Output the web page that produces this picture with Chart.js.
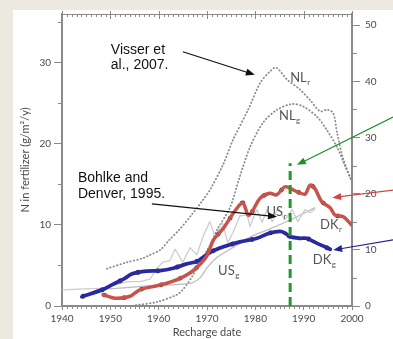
<!DOCTYPE html>
<html>
<head>
<meta charset="utf-8">
<script src="https://cdn.jsdelivr.net/npm/chart.js@4.4.1/dist/chart.umd.min.js"></script>
<style>
  html, body { margin: 0; padding: 0; background: #ece9e0; }
  #wrap { position: relative; width: 393px; height: 339px; overflow: hidden; }
  #panel { position: absolute; left: 13px; top: 10px; right: 0; bottom: 0; background: #fff; }
  canvas { position: absolute; left: 0; top: 0; }
</style>
</head>
<body>
<div id="wrap">
  <div id="panel"></div>
  <canvas id="myChart" width="393" height="339"></canvas>
</div>
<script>
// DK recharge (red) and DK groundwater (blue)
const redYears = [1948.5, 1951.0, 1954.1, 1956.1, 1959.6, 1961.7, 1964.4, 1967.2, 1969.9, 1971.3, 1973.4, 1975.4, 1976.8, 1977.5, 1978.5, 1979.2, 1981.0, 1983.0, 1984.4, 1986.1, 1987.2, 1988.6, 1990.3, 1991.3, 1992.3, 1993.7, 1995.5, 1996.5, 1998.2, 1999.9];
const redValues = [1.4, 0.95, 1.2, 2.0, 2.5, 2.8, 3.4, 4.4, 6.1, 8.1, 9.6, 11.4, 12.5, 12.7, 11.2, 11.5, 13.3, 13.9, 13.7, 14.7, 14.5, 14.1, 13.8, 14.9, 14.5, 12.9, 12.1, 11.2, 11.0, 10.0];

const blueYears = [1944.1, 1948.5, 1950.6, 1953.0, 1954.4, 1957.5, 1960.3, 1963.0, 1965.8, 1967.9, 1970.6, 1973.4, 1976.8, 1980.3, 1983.0, 1985.1, 1986.1, 1987.2, 1989.2, 1990.6, 1992.7, 1995.5];
const blueValues = [1.15, 2.05, 2.7, 3.4, 3.95, 4.3, 4.35, 4.65, 5.2, 5.5, 6.6, 7.3, 7.9, 8.35, 9.0, 9.2, 9.0, 8.55, 8.35, 8.35, 7.75, 7.0];

// NL recharge / groundwater (dotted)
const nlrYears = [1949.3, 1953.5, 1956.8, 1958.2, 1960.3, 1962.3, 1964.4, 1966.5, 1969.2, 1970.6, 1973.3, 1975.4, 1978.5, 1981.0, 1983.0, 1984.3, 1986.6, 1989.2, 1991.3, 1993.4, 1994.8, 1996.1, 1996.9, 1998.1, 2000.0];
const nlrValues = [4.6, 5.4, 5.9, 6.3, 6.9, 8.2, 9.5, 11.0, 13.1, 14.3, 17.4, 20.5, 24.2, 27.5, 28.9, 29.4, 27.9, 26.7, 25.4, 24.0, 24.2, 23.8, 21.4, 18.3, 15.3];

const nlgYears = [1955.3, 1959.7, 1963.8, 1965.0, 1966.9, 1968.6, 1970.6, 1972.1, 1974.8, 1976.6, 1978.9, 1981.6, 1984.5, 1987.6, 1989.9, 1992.8, 1994.8, 1996.9, 1998.6, 2000.0];
const nlgValues = [0.1, 0.5, 1.4, 2.0, 3.6, 5.4, 7.5, 9.4, 12.2, 15.6, 19.6, 22.6, 24.2, 24.9, 24.6, 23.3, 21.7, 19.6, 17.2, 15.3];

// US recharge (light grey, jagged) and US groundwater (grey)
const usrYears = [1940.0, 1948.5, 1951.0, 1953.5, 1956.1, 1958.2, 1959.7, 1960.9, 1962.3, 1963.4, 1965.0, 1966.5, 1967.9, 1969.2, 1970.6, 1971.7, 1973.1, 1974.3, 1975.4, 1976.8, 1978.3, 1978.9, 1980.3, 1981.4, 1982.4, 1983.5, 1984.7, 1986.1, 1987.6, 1988.8, 1990.3, 1991.3, 1992.3];
const usrValues = [2.0, 2.2, 2.6, 3.0, 3.0, 3.3, 4.7, 5.4, 5.6, 7.0, 5.4, 7.2, 6.3, 8.6, 10.4, 8.4, 10.4, 7.8, 9.1, 11.1, 11.2, 9.8, 11.9, 10.3, 11.9, 10.4, 12.1, 10.6, 11.9, 10.4, 11.9, 11.5, 11.9];

const usgYears = [1949.9, 1958.2, 1966.5, 1968.6, 1970.0, 1972.1, 1976.2, 1978.9, 1983.0, 1987.2, 1992.3];
const usgValues = [2.1, 2.5, 2.8, 3.5, 4.7, 6.0, 7.5, 8.5, 9.5, 10.6, 12.1];

// green marker year
const markYears = [1987.2, 1987.2];
const markValues = [0, 17.6];

const xLabels = [1940, 1950, 1960, 1970, 1980, 1990, 2000];

function pts(xs, ys) {
  return xs.map((x, i) => ({ x: x, y: ys[i] }));
}

const gothic = "Lato, 'Open Sans', sans-serif";
const axisGrey = "#8a8a8a";
const textGrey = "#4a4a4a";

// annotation texts and arrows, placed in data units
const notesText = [
  { t: "Visser et", x: 1950.1, y: 31.1 },
  { t: "al., 2007.", x: 1950.1, y: 29.25 },
  { t: "Bohlke and", x: 1943.3, y: 15.3 },
  { t: "Denver, 1995.", x: 1943.3, y: 13.35 },
];
const seriesTags = [
  { t: "NL", s: "r", x: 1987.2, y: 27.65 },
  { t: "NL", s: "g", x: 1984.9, y: 22.95 },
  { t: "US", s: "r", x: 1982.3, y: 11.05 },
  { t: "DK", s: "r", x: 1993.4, y: 9.5 },
  { t: "DK", s: "g", x: 1991.9, y: 5.2 },
  { t: "US", s: "g", x: 1972.3, y: 3.85 },
];
const arrows = [
  { x0: 1965.0, y0: 31.35, x1: 1979.9, y1: 28.5, c: "#111" },
  { x0: 1958.6, y0: 12.6, x1: 1984.5, y1: 11.0, c: "#111" },
  { x0: 2008.5, y0: 23.3, x1: 1988.6, y1: 17.4, c: "#1d8f24" },
  { x0: 2008.5, y0: 14.3, x1: 1995.9, y1: 13.35, c: "#cc4a44" },
  { x0: 2008.5, y0: 8.15, x1: 1996.1, y1: 6.9, c: "#232394" },
];

const frame = {
  id: "frame",
  afterDraw(chart) {
    const c = chart.ctx;
    const xs = chart.scales.x, ys = chart.scales.y, y2 = chart.scales.y2;
    const a = chart.chartArea;
    c.save();
    c.strokeStyle = axisGrey;
    c.lineWidth = 1;
    // top border with yearly ticks
    c.beginPath();
    c.moveTo(a.left - 1, a.top + 0.5);
    c.lineTo(a.right + 1, a.top + 0.5);
    c.stroke();
    for (let yr = 1940; yr <= 2000; yr++) {
      const p = Math.round(xs.getPixelForValue(yr)) + 0.5;
      c.beginPath();
      if (yr % 10 === 0) {
        c.moveTo(p, a.top - 3);
        c.lineTo(p, a.top + 5);
      } else {
        c.moveTo(p, a.top);
        c.lineTo(p, a.top + 3);
        // bottom minor ticks
        c.moveTo(p, a.bottom);
        c.lineTo(p, a.bottom + 3);
      }
      c.stroke();
    }
    // minor ticks on both y axes
    for (let v = 5; v < 36; v += 10) {
      const p = Math.round(ys.getPixelForValue(v)) + 0.5;
      c.beginPath();
      c.moveTo(a.left - 4, p);
      c.lineTo(a.left, p);
      c.stroke();
    }
    for (let v = 5; v < 52; v += 10) {
      const p = Math.round(y2.getPixelForValue(v)) + 0.5;
      c.beginPath();
      c.moveTo(a.right, p);
      c.lineTo(a.right + 5, p);
      c.stroke();
    }
    c.restore();
  },
};

const notes = {
  id: "notes",
  afterDatasetsDraw(chart) {
    const c = chart.ctx;
    const px = v => chart.scales.x.getPixelForValue(v);
    const py = v => chart.scales.y.getPixelForValue(v);
    c.save();
    c.fillStyle = "#111";
    c.font = "14px 'Liberation Sans', Arial, sans-serif";
    c.textBaseline = "alphabetic";
    notesText.forEach(n => c.fillText(n.t, px(n.x), py(n.y)));

    c.fillStyle = "#555";
    seriesTags.forEach(n => {
      c.font = "13px " + gothic;
      const x = px(n.x), y = py(n.y);
      c.fillText(n.t, x, y);
      const w = c.measureText(n.t).width;
      c.font = "8px " + gothic;
      c.fillText(n.s, x + w + 0.5, y + 3);
    });

    arrows.forEach(ar => {
      const x0 = px(ar.x0), y0 = py(ar.y0), x1 = px(ar.x1), y1 = py(ar.y1);
      const ang = Math.atan2(y1 - y0, x1 - x0);
      c.strokeStyle = ar.c;
      c.fillStyle = ar.c;
      c.lineWidth = 1.2;
      c.beginPath();
      c.moveTo(x0, y0);
      c.lineTo(x1 - 6 * Math.cos(ang), y1 - 6 * Math.sin(ang));
      c.stroke();
      c.beginPath();
      c.moveTo(x1, y1);
      c.lineTo(x1 - 9 * Math.cos(ang) + 3.5 * Math.sin(ang), y1 - 9 * Math.sin(ang) - 3.5 * Math.cos(ang));
      c.lineTo(x1 - 9 * Math.cos(ang) - 3.5 * Math.sin(ang), y1 - 9 * Math.sin(ang) + 3.5 * Math.cos(ang));
      c.closePath();
      c.fill();
    });
    c.restore();
  },
};

const lineBase = { pointRadius: 0, fill: false, tension: 0.3, borderJoinStyle: "round", borderCapStyle: "round" };

const data = {
  datasets: [
    Object.assign({}, lineBase, { label: "mark", data: pts(markYears, markValues), borderColor: "#1f9a28", borderWidth: 3, borderDash: [9, 5], borderCapStyle: "butt", tension: 0, order: 0 }),
    Object.assign({}, lineBase, { label: "DKr", data: pts(redYears, redValues), borderColor: "#c9524b", borderWidth: 3.5, order: 1 }),
    Object.assign({}, lineBase, { label: "DKg", data: pts(blueYears, blueValues), borderColor: "#2a2aa0", borderWidth: 3.8, order: 2 }),
    Object.assign({}, lineBase, { label: "DKr black", data: pts(redYears, redValues), borderColor: "#333", borderWidth: 4.3, borderDash: [3, 17], borderCapStyle: "butt", order: 3 }),
    Object.assign({}, lineBase, { label: "DKg black", data: pts(blueYears, blueValues), borderColor: "#333", borderWidth: 4.6, borderDash: [3, 17], borderCapStyle: "butt", order: 4 }),
    Object.assign({}, lineBase, { label: "USr", data: pts(usrYears, usrValues), borderColor: "#cdcdcd", borderWidth: 1.3, tension: 0, order: 5 }),
    Object.assign({}, lineBase, { label: "USg", data: pts(usgYears, usgValues), borderColor: "#bcbcbc", borderWidth: 1.3, order: 6 }),
    Object.assign({}, lineBase, { label: "NLr", data: pts(nlrYears, nlrValues), borderColor: "#8c8c8c", borderWidth: 1.8, borderDash: [0.5, 3], order: 7 }),
    Object.assign({}, lineBase, { label: "NLg", data: pts(nlgYears, nlgValues), borderColor: "#8c8c8c", borderWidth: 1.8, borderDash: [0.5, 3], order: 8 }),
  ],
};

const config = {
  type: "line",
  data,
  plugins: [frame, notes],
  options: {
    responsive: false,
    animation: false,
    events: [],
    layout: { padding: { top: 14, left: 0, right: 0, bottom: 0 } },
    plugins: { legend: { display: false }, tooltip: { enabled: false } },
    scales: {
      x: {
        type: "linear",
        position: "bottom",
        min: 1940,
        max: 2000,
        afterBuildTicks: s => { s.ticks = xLabels.map(v => ({ value: v })); },
        ticks: { autoSkip: false, maxRotation: 0, padding: 3, color: textGrey, font: { family: gothic, size: 10 }, callback: v => String(v) },
        grid: { drawOnChartArea: false, tickLength: 4, color: axisGrey },
        border: { color: axisGrey, width: 2 },
        title: { display: true, text: "Recharge date", color: textGrey, font: { family: gothic, size: 11 }, padding: { top: 0, bottom: 0 } },
        afterFit: s => { s.height = 33; },
      },
      y: {
        position: "left",
        min: 0,
        max: 36,
        ticks: { stepSize: 10, includeBounds: false, padding: 3, color: textGrey, font: { family: gothic, size: 10 } },
        grid: { drawOnChartArea: false, tickLength: 8, color: axisGrey },
        border: { color: axisGrey, width: 2 },
        title: { display: true, text: "N in fertilizer (g/m²/y)", color: textGrey, font: { family: gothic, size: 11 }, padding: { top: 19, bottom: 0 } },
        afterFit: s => { s.width = 62; },
      },
      y2: {
        position: "right",
        min: 0,
        max: 52,
        ticks: { stepSize: 10, includeBounds: false, padding: 5, color: textGrey, font: { family: gothic, size: 10 } },
        grid: { drawOnChartArea: false, tickLength: 8, color: axisGrey },
        border: { color: axisGrey, width: 2 },
        afterFit: s => { s.width = 41; },
      },
    },
  },
};

const ctx = document.getElementById("myChart");
let myChart = new Chart(ctx, config);
</script>
</body>
</html>
